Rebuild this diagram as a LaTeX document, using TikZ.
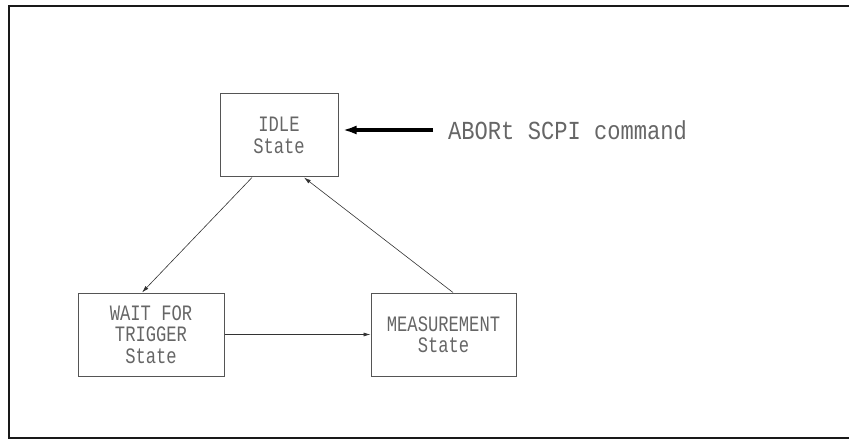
\documentclass[tikz,border=0pt]{standalone}
\usepackage{fontspec}
\newfontfamily\boxfont{Liberation Mono}[FakeStretch=0.78]
\newfontfamily\labfont{Liberation Mono}[FakeStretch=0.85]
\usetikzlibrary{arrows.meta}
\definecolor{txt}{HTML}{666666}
\definecolor{ln}{HTML}{555555}
\begin{document}
\begin{tikzpicture}[x=1pt,y=-1pt,
  statebox/.style={draw=ln,line width=1pt,rectangle,minimum height=83pt,inner sep=0pt,align=center,text=txt,font=\boxfont\fontsize{22}{21.5}\selectfont},
  conn/.style={draw=black!80,line width=0.6pt,-{Latex[length=7pt,width=4pt]}},
  bigarrow/.style={draw=black,line width=3.2pt,-{Latex[length=14pt,width=9pt]}}]
\useasboundingbox (0,0) rectangle (849,441);
\draw[line width=2pt,black!90] (849,6.5) -- (9,6.5) -- (9,437.5) -- (849,437.5);
\node[statebox,minimum width=118pt] (idle) at (279,135.5) {IDLE\\State};
\node[statebox,minimum width=146pt] (wait) at (151,334.5) {WAIT FOR\\TRIGGER\\State};
\node[statebox,minimum width=145pt] (meas) at (443.5,334.5) {MEASUREMENT\\State};
\node[anchor=west,inner sep=0pt,text=txt,font=\labfont\fontsize{26}{28}\selectfont] (abort) at (448,130) {ABORt SCPI command};
\draw[bigarrow] ([xshift=-15pt]abort.west) -- ([xshift=4pt,yshift=5.5pt]idle.east);
\draw[conn] ([xshift=-27pt]idle.south) -- ([xshift=-9pt]wait.north);
\draw[conn] (wait.east) -- (meas.west);
\draw[conn] ([xshift=9.5pt]meas.north) -- ([xshift=25pt]idle.south);
\end{tikzpicture}
\end{document}
